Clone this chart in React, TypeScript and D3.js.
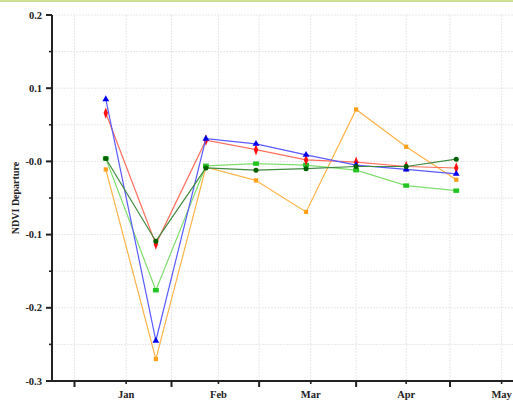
import React from 'react';
import * as d3 from 'd3';

// 16-day composite dates
const dates = ['2001-01-11', '2001-01-27', '2001-02-12', '2001-02-28', '2001-03-16', '2001-04-01', '2001-04-17', '2001-05-03'];

const blueVals = [0.085, -0.245, 0.031, 0.024, 0.009, -0.005, -0.011, -0.017];
const redVals = [0.066, -0.113, 0.029, 0.016, 0.002, -0.001, -0.007, -0.009];
const darkGreenVals = [0.004, -0.109, -0.009, -0.012, -0.010, -0.007, -0.007, 0.003];
const lightGreenVals = [0.004, -0.176, -0.006, -0.003, -0.005, -0.012, -0.033, -0.040];
const orangeVals = [-0.011, -0.270, -0.008, -0.026, -0.069, 0.071, 0.020, -0.025];

const monthLabels = ['Jan', 'Feb', 'Mar', 'Apr', 'May'];
const yTicks = [0.2, 0.1, 0.0, -0.1, -0.2, -0.3];
const yTickLabels = ['0.2', '0.1', '-0.0', '-0.1', '-0.2', '-0.3'];
const yMinorTicks = [0.15, 0.05, -0.05, -0.15, -0.25];

const W = 513;
const H = 401;
const left = 52;
const right = 513;
const top = 15;
const bottom = 381;

const parse = d3.timeParse('%Y-%m-%d');

const x = d3
  .scaleTime()
  .domain([new Date(2001, 0, 1), new Date(2001, 4, 1)])
  .range([74.5, 450]);

const y = d3.scaleLinear().domain([-0.3, 0.2]).range([bottom, top]);

const monthStarts = d3.timeMonth.range(new Date(2001, 0, 1), new Date(2001, 5, 1));
// label ticks sit about mid-month
const monthMids = monthStarts.map((m) => {
  const next = d3.timeMonth.offset(m, 1);
  return new Date((m.getTime() + next.getTime()) / 2 + 24 * 3600 * 1000);
});

const series = [
  { vals: orangeVals, line: '#ffb347', fill: '#ff9f1c', shape: d3.symbolSquare, size: 18, sx: 1, sy: 1 },
  { vals: lightGreenVals, line: '#7ede6c', fill: '#22c422', shape: d3.symbolSquare, size: 24, sx: 1.2, sy: 0.9 },
  { vals: redVals, line: '#ff6e5e', fill: '#ff1010', shape: d3.symbolDiamond, size: 24, sx: 0.85, sy: 1.25 },
  { vals: blueVals, line: '#5a5aff', fill: '#0000e8', shape: d3.symbolTriangle, size: 20, sx: 1, sy: 1 },
  { vals: darkGreenVals, line: '#3f8a3f', fill: '#006000', shape: d3.symbolCircle, size: 20, sx: 1, sy: 1 },
];

const font = '"Liberation Serif", "Times New Roman", serif';

export default function App() {
  const line = d3
    .line<number>()
    .x((_, i) => x(parse(dates[i])!))
    .y((d) => y(d));

  const gridX = [...monthStarts, ...monthMids].map((d) => x(d)).filter((v) => v > left && v < right);
  const gridY = [...yTicks, ...yMinorTicks].map((v) => y(v));

  return (
    <div style={{ position: 'fixed', left: 0, top: 0 }}>
      <svg width={W} height={H} style={{ display: 'block', background: '#fff' }}>
        <line x1={0} x2={W} y1={1} y2={1} stroke="#bcd36e" strokeWidth={1.5} />

        {gridX.map((gx, i) => (
          <line key={'gx' + i} x1={gx} x2={gx} y1={top} y2={bottom} stroke="#e8e8e8" strokeDasharray="2,1" />
        ))}
        {gridY.map((gy, i) => (
          <line key={'gy' + i} x1={left} x2={right} y1={gy} y2={gy} stroke="#e8e8e8" strokeDasharray="2,1" />
        ))}

        {series.map((s, si) => (
          <g key={'s' + si}>
            <path d={line(s.vals) || ''} fill="none" stroke={s.line} strokeWidth={1.2} />
            {s.vals.map((v, i) => (
              <path
                key={i}
                d={d3.symbol().type(s.shape).size(s.size)() || ''}
                transform={`translate(${x(parse(dates[i])!)},${y(v)}) scale(${s.sx},${s.sy})`}
                fill={s.fill}
              />
            ))}
          </g>
        ))}

        {/* y axis */}
        <line x1={left} x2={left} y1={top} y2={bottom} stroke="#222" strokeWidth={2} />
        {yTicks.map((v, i) => (
          <g key={'yt' + i}>
            <line x1={left - 6} x2={left} y1={y(v)} y2={y(v)} stroke="#222" strokeWidth={2} />
            <text
              x={42}
              y={y(v)}
              dy="0.35em"
              textAnchor="end"
              fontFamily={font}
              fontWeight="bold"
              fontSize={10.5}
              fill="#222"
            >
              {yTickLabels[i]}
            </text>
          </g>
        ))}
        {yMinorTicks.map((v, i) => (
          <line key={'ym' + i} x1={left - 3} x2={left} y1={y(v)} y2={y(v)} stroke="#222" strokeWidth={1.6} />
        ))}
        <text
          transform={`translate(15,${(top + bottom) / 2}) rotate(-90)`}
          textAnchor="middle"
          dy="0.35em"
          fontFamily={font}
          fontWeight="bold"
          fontSize={10}
          fill="#222"
        >
          NDVI Departure
        </text>

        {/* x axis */}
        <line x1={left - 6} x2={right} y1={bottom} y2={bottom} stroke="#222" strokeWidth={2} />
        {monthStarts
          .filter((d) => x(d) < right)
          .map((d, i) => (
            <line key={'xt' + i} x1={x(d)} x2={x(d)} y1={bottom} y2={bottom + 6} stroke="#222" strokeWidth={2} />
          ))}
        {monthMids
          .filter((d) => x(d) < right)
          .map((d, i) => (
            <g key={'xm' + i}>
              <line x1={x(d)} x2={x(d)} y1={bottom} y2={bottom + 3} stroke="#222" strokeWidth={1.6} />
              <text
                x={x(d)}
                y={bottom + 17}
                textAnchor="middle"
                fontFamily={font}
                fontWeight="bold"
                fontSize={10.5}
                fill="#222"
              >
                {monthLabels[i]}
              </text>
            </g>
          ))}
      </svg>
    </div>
  );
}
